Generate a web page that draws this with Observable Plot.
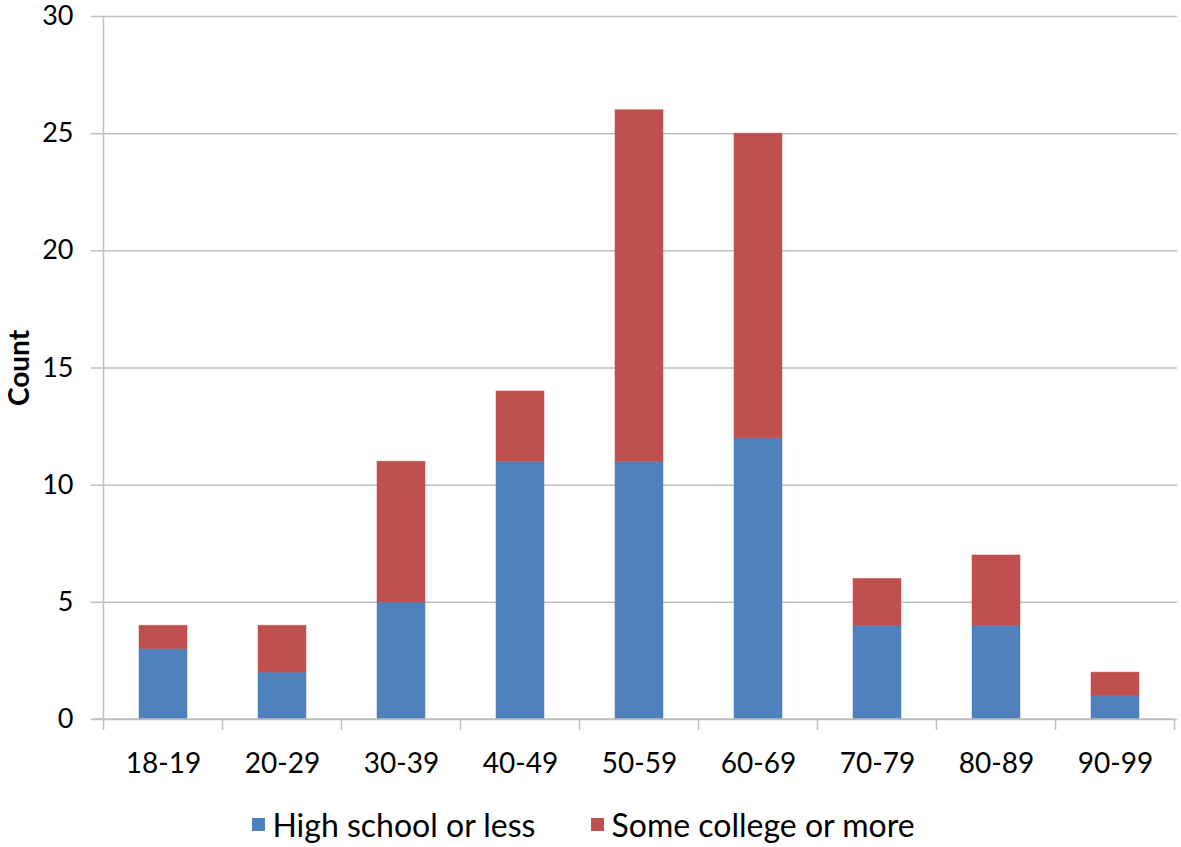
<!DOCTYPE html>
<html><head><meta charset="utf-8">
<script src="https://cdn.jsdelivr.net/npm/d3@7"></script>
<script src="https://cdn.jsdelivr.net/npm/@observablehq/plot@0.6"></script>
<style>
body{margin:0;background:#fff;font-family:Lato,"Open Sans",sans-serif;}
#legend{display:flex;justify-content:center;align-items:center;height:52px;font-size:32px;color:#000;padding-right:14px;}
.item{display:flex;align-items:center;margin:0 28px;}
.sw{display:inline-block;width:13px;height:13px;margin-right:7px;}
</style></head><body>
<div id="chart"></div>
<div id="legend"></div>
<script>
const categories = ["18-19","20-29","30-39","40-49","50-59","60-69","70-79","80-89","90-99"];
const highSchool = [3,2,5,11,11,12,4,4,1];
const someCollege = [1,2,6,3,15,13,2,3,1];
const seriesNames = ["High school or less","Some college or more"];
const colors = ["#4F81BD","#C0504D"];
const yTicks = [0,5,10,15,20,25,30];
const yLabel = "Count";

const data = [];
categories.forEach((c,i)=>data.push({age:c, series:seriesNames[0], count:highSchool[i]}));
categories.forEach((c,i)=>data.push({age:c, series:seriesNames[1], count:someCollege[i]}));

const gridColor = "#bfbfbf";
const chart = Plot.plot({
  width:1181, height:798,
  marginLeft:101, marginRight:4, marginTop:16, marginBottom:79,
  style:{fontFamily:"Lato, 'Open Sans', sans-serif", fontSize:"26px", background:"#fff", color:"black", overflow:"visible"},
  x:{domain:categories, paddingInner:0.6, paddingOuter:0.3, label:null},
  y:{domain:[0,30], label:null},
  color:{domain:seriesNames, range:colors},
  marks:[
    Plot.gridY(yTicks, {stroke:gridColor, strokeOpacity:1, strokeWidth:1.5}),
    Plot.axisY(yTicks, {tickSize:10, tickPadding:18, stroke:gridColor, strokeWidth:1.5, fill:"black", fontSize:27, label:yLabel, labelAnchor:"center", labelOffset:92, labelArrow:"none"}),
    Plot.axisX({tickSize:0, tickPadding:34, fill:"black", fontSize:28, label:null}),
    Plot.barY(data, {x:"age", y:"count", fill:"series", order:seriesNames, stroke:"series", strokeOpacity:0.6, strokeWidth:0.8})
  ]
});
document.getElementById("chart").appendChild(chart);

// Bold axis label
d3.select(chart).selectAll("text").filter(function(){return this.textContent.trim()===yLabel;})
  .attr("font-weight","bold").attr("font-size","28px");

// Axis lines and category boundary ticks using library scales
const sx = chart.scale("x"), sy = chart.scale("y");
const centers = categories.map(c => sx.apply(c) + sx.bandwidth/2);
const step = centers[1]-centers[0];
const bounds = centers.map(c => c - step/2).concat([centers[centers.length-1] + step/2]);
const y0 = sy.apply(0), yTop = sy.apply(30);
const g = d3.select(chart).append("g").attr("stroke", gridColor).attr("stroke-width",1.5);
g.append("line").attr("x1",bounds[0]).attr("x2",bounds[0]).attr("y1",yTop).attr("y2",y0);
g.append("line").attr("x1",bounds[0]-10).attr("x2",bounds[bounds.length-1]).attr("y1",y0).attr("y2",y0);
bounds.forEach(b => g.append("line").attr("x1",b).attr("x2",b).attr("y1",y0).attr("y2",y0+11));

// Legend
const legend = d3.select("#legend");
seriesNames.forEach((s,i)=>{
  const it = legend.append("div").attr("class","item");
  it.append("span").attr("class","sw").style("background",colors[i]);
  it.append("span").text(s);
});
</script>
</body></html>
